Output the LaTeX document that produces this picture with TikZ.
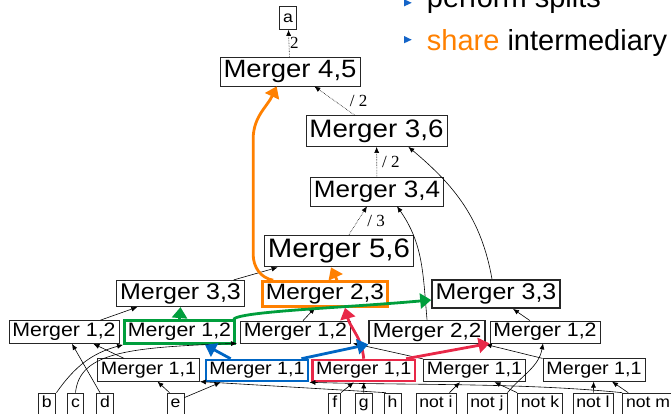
\documentclass[tikz,border=0pt]{standalone}
\usepackage{fontspec}
\usepackage{xcolor}
\usetikzlibrary{arrows.meta,positioning,calc}
\newfontfamily\gfont[FakeStretch=1.1]{Liberation Sans}
\newfontfamily\slidefont{Liberation Sans}
\newfontfamily\lblfont{Liberation Serif}
\definecolor{hlorange}{RGB}{255,128,0}
\definecolor{hlgreen}{RGB}{0,158,60}
\definecolor{hlblue}{RGB}{0,102,196}
\definecolor{hlred}{RGB}{232,40,72}
\definecolor{bulletblue}{RGB}{20,100,200}
\tikzset{
  merger/.style={draw=black!85, line width=0.7pt, fill=white, inner xsep=3.5pt, inner ysep=0pt},
  sz/.style 2 args={font=\gfont\fontsize{#1}{#1}\selectfont, minimum height=#2pt},
  heavy/.style={line width=1.8pt},
  leaf/.style={merger, sz={16}{24}, text height=9pt, text depth=5pt},
  edge/.style={-{Latex[length=6pt,width=5pt]}, line width=0.6pt},
  dotedge/.style={edge, densely dotted},
  wlabel/.style={font=\lblfont\fontsize{17}{17}\selectfont, inner sep=1pt},
  fat/.style={line width=2.8pt, -{Triangle[length=11pt,width=15pt]}},
}

\begin{document}
\begin{tikzpicture}[x=1pt,y=1pt]
  \useasboundingbox (0,0) rectangle (671,-413);
  % slide bullets
  \fill[bulletblue] (404,0.8) -- (411.7,-2.8) -- (404,-6.4) -- cycle;
  \fill[bulletblue] (404,-36) -- (411.7,-39.7) -- (404,-43.3) -- cycle;
  \node[anchor=base west, inner sep=0, font=\slidefont\fontsize{29}{29}\selectfont] (pt1) at (426.7,-7.5) {perform splits};
  \node[anchor=base west, inner sep=0, font=\slidefont\fontsize{29}{29}\selectfont] (pt2) at (426.7,-50) {\textcolor{hlorange}{share} intermediary};

  % mergers
  \node[merger, sz={16}{23}] (a) at (288,-18) {a};
  \node[merger, sz={25}{29}] (m45) at (290,-71.5) {Merger 4,5};
  \node[merger, sz={25.2}{31}] (m36) at (376.5,-131) {Merger 3,6};
  \node[merger, sz={23.7}{28.5}] (m34) at (377,-191.7) {Merger 3,4};
  \node[merger, heavy, sz={26.7}{31}] (m56) at (339,-251) {Merger 5,6};
  \node[merger, sz={22.7}{26.5}] (m33l) at (180.5,-293.5) {Merger 3,3};
  \node[merger, draw=hlorange, line width=2.6pt, sz={22.2}{25}] (m23) at (325,-294) {Merger 2,3};
  \node[merger, heavy, sz={22.7}{28}] (m33r) at (496,-294) {Merger 3,3};
  \node[merger, sz={19.4}{23}] (m12a) at (64,-332) {Merger 1,2};
  \node[merger, draw=hlgreen, line width=2.6pt, sz={19.4}{23}] (m12b) at (179.5,-332) {Merger 1,2};
  \node[merger, sz={19.4}{22}] (m12c) at (295.5,-332) {Merger 1,2};
  \node[merger, heavy, sz={20.4}{23}] (m22) at (427,-332) {Merger 2,2};
  \node[merger, sz={19.4}{22}] (m12d) at (545,-332) {Merger 1,2};
  \node[merger, sz={17.9}{22.5}] (m11a) at (148.5,-370) {Merger 1,1};
  \node[merger, draw=hlblue, line width=2.6pt, sz={17.9}{21}] (m11b) at (257,-370.5) {Merger 1,1};
  \node[merger, draw=hlred, line width=2.6pt, sz={17.9}{21}] (m11c) at (363.7,-370.5) {Merger 1,1};
  \node[merger, sz={17.9}{22.5}] (m11d) at (474.5,-370.5) {Merger 1,1};
  \node[merger, sz={17.9}{22.5}] (m11e) at (594,-370) {Merger 1,1};

  % inputs
  \foreach \nm/\xx/\txt in {lb/46.7/b, lc/75.5/c, ld/105/d, le/175.5/e, lf/334.7/f, lg/363.8/g,
                            lh/392.5/h, li/436/not i, lj/487/not j, lk/540/not k, ll/593/not l, lm/648/not m}
    \node[leaf] (\nm) at (\xx,-405) {\txt};

  % weighted edges
  \draw[dotedge] (m45) -- node[wlabel, right] {2} (a);
  \draw[dotedge] ([xshift=49pt]m36.north west) -- node[wlabel, right=14pt] {/ 2} ([xshift=-46pt]m45.south east);
  \draw[dotedge] (m34) -- node[wlabel, right=4pt] {/ 2} (m36);
  \draw[dotedge] ([xshift=10pt]m56.north) -- node[wlabel, right=8pt] {/ 3} ([xshift=-10pt]m34.south);

  % plain edges
  \draw[edge] (m22.north) to[out=95,in=-55] ([xshift=20pt]m34.south);
  \draw[edge] ([xshift=-4pt]m33r.north) to[out=100,in=-40] ([xshift=-39pt]m36.south east);
  \draw[edge] ([xshift=-11pt]m33l.north east) -- ([xshift=14pt]m56.south west);
  \draw[edge] ([xshift=-19pt]m12a.north east) -- ([xshift=21pt]m33l.south west);
  \draw[edge] ([xshift=7.5pt]m12c.north) -- ([xshift=-10pt]m23.south);
  \draw[edge] ([xshift=-15pt]m12d.north) -- ([xshift=17pt]m33r.south);
  \draw[edge] ([xshift=27pt]m11a.north west) -- ([xshift=-26pt]m12a.south east);
  \draw[edge] (m11d.north west) -- ([xshift=2pt]m12c.south east);
  \draw[edge] (m11e.north west) -- (m22.south east);
  \draw[edge] ([xshift=1pt]lb.north east) to[out=55,in=195] (m12b.south west);
  \draw[edge] (lc.north) .. controls +(4,40) and +(-110,-4) .. ([xshift=-3pt]m12c.south west);
  \draw[edge] ([xshift=-5pt]ld.north) -- ([xshift=8pt]m12a.south);
  \draw[edge] ([xshift=-6pt]le.north) -- ([xshift=9pt]m11a.south);
  \draw[edge] ([yshift=-5pt]le.north east) -- ([xshift=16pt]m11b.south west);
  \draw[edge] ([xshift=2pt]lh.north west) -- (m11a.south east);
  \draw[edge] (lf.north east) -- ([xshift=-10pt]m11c.south);
  \draw[edge] (lg) -- (m11c);
  \draw[edge] ([xshift=-7pt]li.north east) -- ([xshift=-14.5pt]m11d.south);
  \draw[edge] (lk.north west) -- ([xshift=20pt]m11d.south);
  \draw[edge] (lj.north east) to[out=50,in=-100] ([xshift=-2pt]m12d.south);
  \draw[edge] (ll) -- (m11e);
  \draw[edge] ([xshift=6pt]lm.north west) -- ([xshift=18pt]m11e.south);
  \draw[edge] (lm.north west) .. controls +(-100,10) and +(100,-3) .. (m11b.south east);

  % highlighted flows
  \draw[fat, hlorange] ([xshift=12pt]m23.north) -- ([xshift=-8pt]m56.south);
  \draw[fat, hlorange] ([xshift=12pt]m23.north west) to[out=170,in=-90] ++(-20,26) -- ++(0,115)
    to[out=90,in=-115] ([xshift=57pt]m45.south west);
  \draw[fat, hlred] (m11c.north) to[out=95,in=-75] ([xshift=20pt]m23.south);
  \draw[fat, hlred] ([xshift=-10pt]m11c.north east) -- (m12d.south west);
  \draw[fat, hlblue] ([xshift=26pt]m11b.north west) -- ([xshift=25.5pt]m12b.south);
  \draw[fat, hlblue] ([xshift=-8pt]m11b.north east) -- (m22.south west);
  \draw[fat, hlgreen] (m12b.north) -- (m33l.south);
  \draw[fat, hlgreen] ([xshift=-2.5pt]m12b.north east) .. controls +(8,8) and +(-90,-8) .. ([yshift=-6pt]m33r.west);
\end{tikzpicture}
\end{document}
